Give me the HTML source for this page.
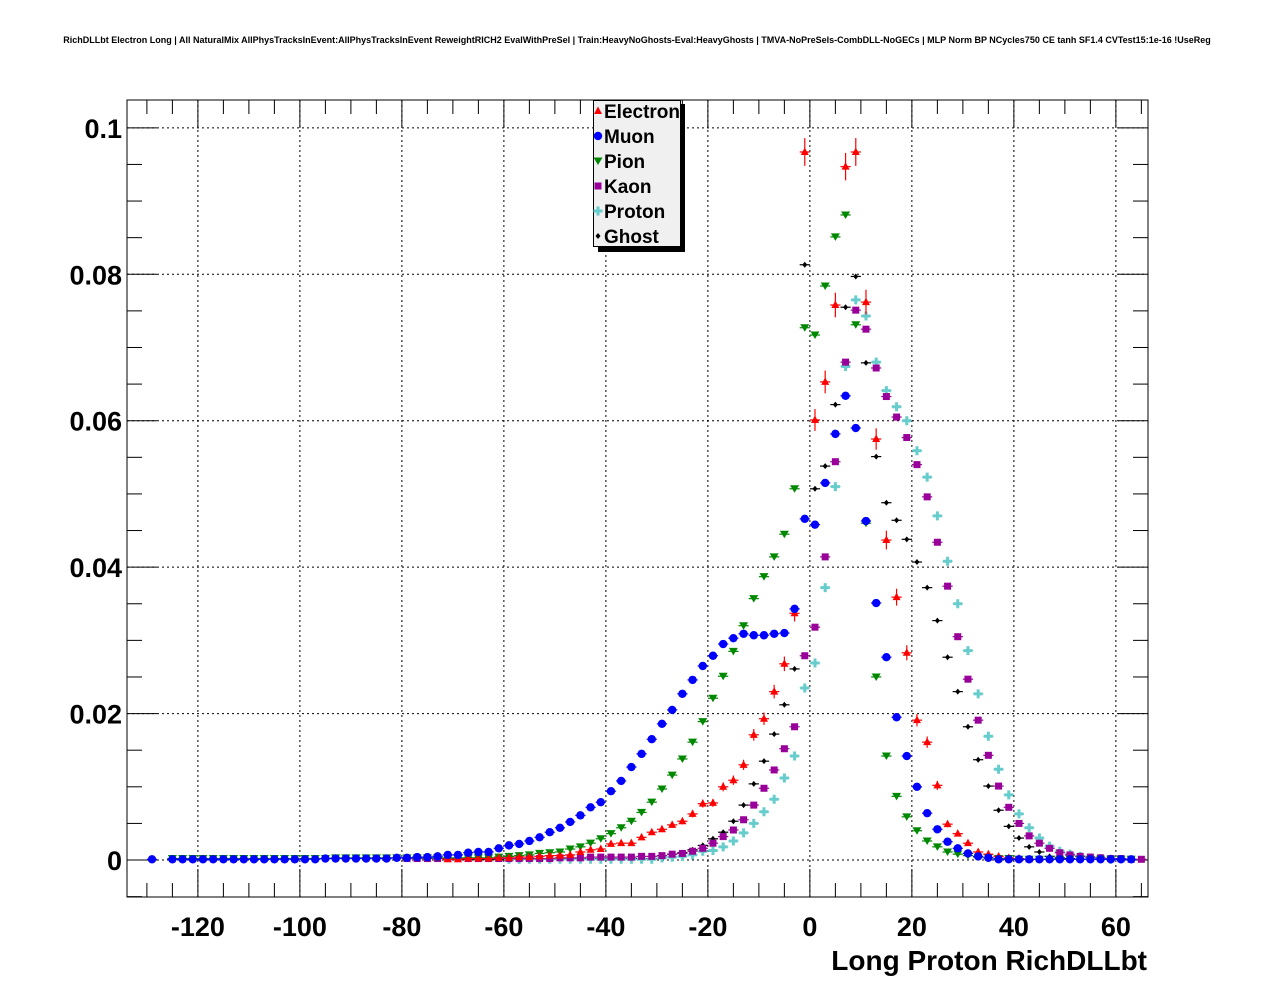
<!DOCTYPE html>
<html><head><meta charset="utf-8"><style>
html,body{margin:0;padding:0;background:#fff;}
svg{display:block;font-family:"Liberation Sans",sans-serif;}
</style></head><body>
<svg id="chart" width="1276" height="996" viewBox="0 0 1276 996" xmlns="http://www.w3.org/2000/svg">
<rect x="0" y="0" width="1276" height="996" fill="#fff"/>
<text x="637" y="43" font-size="9" font-weight="bold" text-anchor="middle">RichDLLbt Electron Long | All NaturalMix AllPhysTracksInEvent:AllPhysTracksInEvent ReweightRICH2 EvalWithPreSel | Train:HeavyNoGhosts-Eval:HeavyGhosts | TMVA-NoPreSels-CombDLL-NoGECs | MLP Norm BP NCycles750 CE tanh SF1.4 CVTest15:1e-16 !UseReg</text>
<g id="grid"></g>
<g id="axes"></g>
<g id="marks"></g>
<g id="legend"></g>
<text x="1147" y="970" font-size="28" font-weight="bold" text-anchor="end">Long Proton RichDLLbt</text>
</svg>
<script>
const xTicks = [-120,-100,-80,-60,-40,-20,0,20,40,60];
const yTicks = [0,0.02,0.04,0.06,0.08,0.1];
const yTickLabels = ["0","0.02","0.04","0.06","0.08","0.1"];
const seriesNames = ["Electron","Muon","Pion","Kaon","Proton","Ghost"];
const binWidth = 2;

const electronStart = -71;
const electronValues = [0.0001,0.0001,0.0002,0.0002,0.0002,0.0003,0.0003,0.0004,0.0004,0.0005,0.0006,0.0006,0.0007,0.0011,0.0014,0.0015,0.0022,0.0023,0.0023,0.0031,0.0038,0.0042,0.0048,0.0053,0.0063,0.0077,0.0078,0.0100,0.0109,0.013,0.0171,0.0193,0.023,0.0268,0.0337,0.0967,0.0601,0.0653,0.0758,0.0947,0.0967,0.0762,0.0575,0.0437,0.0359,0.0283,0.0191,0.0161,0.0102,0.0049,0.0036,0.0023,0.0011,0.0008,0.0005,0.0003,0.0002,0.0001];

const muonStart = -129;
const muonValues = [0.0001,null,0.0001,0.0001,0.0001,0.0001,0.0001,0.0001,0.0001,0.0001,0.0001,0.0001,0.0001,0.0001,0.0001,0.0001,0.0001,0.0002,0.0002,0.0002,0.0002,0.0002,0.0002,0.0002,0.0003,0.0003,0.0004,0.0004,0.0005,0.0007,0.0007,0.001,0.0011,0.0011,0.0016,0.002,0.0022,0.0026,0.0031,0.0038,0.0044,0.0052,0.0061,0.0072,0.0079,0.0094,0.0108,0.0127,0.0145,0.0165,0.0186,0.0205,0.0227,0.0246,0.0265,0.0279,0.0295,0.0303,0.0309,0.0307,0.0307,0.0309,0.031,0.0343,0.0466,0.0458,0.0515,0.0582,0.0634,0.059,0.0463,0.0351,0.0277,0.0195,0.0142,0.01,0.0064,0.0042,0.0025,0.0016,0.0009,0.0005,0.0003,0.0001,0.0001,0.0001,0.0001,0.0001,0.0001,0.0001,0.0001,0.0001,0.0001,0.0001,0.0001,0.0001,0.0001];

const pionStart = -125;
const pionValues = [0.0002,0.0002,0.0002,0.0002,0.0002,0.0002,0.0002,0.0002,0.0002,0.0002,0.0002,0.0002,0.0002,0.0002,0.0002,0.0002,0.0003,0.0003,0.0003,0.0003,0.0003,0.0003,0.0003,0.0003,0.0003,0.0003,0.0003,0.0003,0.0003,0.0003,0.0003,0.0003,0.0004,0.0005,0.0006,0.0007,0.0009,0.001,0.0011,0.0015,0.0018,0.0023,0.0029,0.0036,0.0044,0.0053,0.0065,0.0079,0.0097,0.0116,0.0138,0.0161,0.0189,0.0221,0.0251,0.0285,0.032,0.0357,0.0387,0.0414,0.0445,0.0507,0.0727,0.0717,0.0784,0.0851,0.0881,0.0731,0.046,0.025,0.0142,0.0087,0.0059,0.004,0.0026,0.0018,0.0011,0.0008,0.0006,0.0004,0.0003,0.0002,0.0002,0.0001,0.0001,0.0001,0.0001,0.0001,0.0001,0.0001,0.0001,0.0001,0.0001,0.0001,0.0001];

const kaonStart = -79;
const kaonValues = [0.0002,0.0002,0.0002,0.0002,0.0002,0.0002,0.0002,0.0002,0.0002,0.0002,0.0002,0.0002,0.0002,0.0002,0.0002,0.0003,0.0003,0.0003,0.0004,0.0004,0.0004,0.0004,0.0004,0.0005,0.0005,0.0006,0.0008,0.0009,0.0012,0.0016,0.0023,0.0032,0.0041,0.0055,0.0075,0.0098,0.0123,0.0152,0.0182,0.0279,0.0318,0.0414,0.0544,0.068,0.0751,0.0725,0.0672,0.0633,0.0605,0.0577,0.054,0.0496,0.0434,0.0374,0.0305,0.0247,0.0191,0.0143,0.0101,0.0072,0.005,0.0033,0.0023,0.0016,0.001,0.0007,0.0005,0.0004,0.0003,0.0002,0.0002,0.0001,0.0001];

const protonStart = -59;
const protonValues = [0.0001,0.0001,0.0001,0.0001,0.0001,0.0001,0.0001,0.0001,0.0001,0.0001,0.0001,0.0001,0.0001,0.0001,0.0001,0.0003,0.0004,0.0005,0.0007,0.0012,0.0013,0.0018,0.0026,0.0037,0.005,0.0066,0.0083,0.0112,0.0142,0.0235,0.0269,0.0372,0.051,0.0674,0.0765,0.0743,0.068,0.0641,0.0619,0.06,0.0559,0.0523,0.047,0.0408,0.035,0.0286,0.0227,0.0169,0.0124,0.0089,0.0063,0.0044,0.003,0.0019,0.0012,0.0008,0.0005,0.0003,0.0002,0.0001];

const ghostStart = -69;
const ghostValues = [0.0001,0.0001,0.0001,0.0001,0.0001,0.0001,0.0001,0.0001,0.0001,0.0001,0.0002,0.0002,0.0002,0.0002,0.0002,0.0002,0.0002,0.0002,0.0002,0.0002,0.0006,0.0008,0.001,0.0014,0.002,0.0029,0.0038,0.0053,0.0075,0.0104,0.0135,0.0172,0.0212,0.0261,0.0813,0.0507,0.0538,0.0622,0.0755,0.0797,0.0679,0.0551,0.0488,0.0464,0.0438,0.0407,0.0372,0.0327,0.0277,0.023,0.0182,0.0137,0.0101,0.0068,0.0046,0.003,0.0018,0.0011,0.0005,0.0003,0.0002,0.0001];

const NS = "http://www.w3.org/2000/svg";
const PL = 127, PR = 1148, PT = 100, PB = 897;
const XMIN = -133.9, XMAX = 66.3, YMIN = -0.00505, YMAX = 0.1038;
function sx(v){ return PL + (v - XMIN) / (XMAX - XMIN) * (PR - PL); }
function sy(v){ return PB - (v - YMIN) / (YMAX - YMIN) * (PB - PT); }
function mk(tag, attrs, parent){
  const e = document.createElementNS(NS, tag);
  for (const k in attrs) e.setAttribute(k, attrs[k]);
  parent.appendChild(e);
  return e;
}
const grid = document.getElementById('grid');
const axes = document.getElementById('axes');
const marks = document.getElementById('marks');
const legend = document.getElementById('legend');

xTicks.forEach(t => {
  const l = mk('line', {x1:sx(t), x2:sx(t), y1:PT, y2:PB, stroke:'#000', 'stroke-width':1, 'stroke-dasharray':'2,3'}, grid);
  
  
});
yTicks.forEach(t => {
  const l = mk('line', {x1:PL, x2:PR, y1:sy(t), y2:sy(t), stroke:'#000', 'stroke-width':1, 'stroke-dasharray':'2,3'}, grid);
  
  
});

const frame = mk('rect', {x:PL, y:PT, width:PR-PL, height:PB-PT, fill:'none', stroke:'#000', 'stroke-width':1}, axes);



for (let v = -130; v <= 65; v += 5) {
  const major = (v % 20 === 0);
  const len = major ? 28 : 14;
  const x = sx(v);
  mk('line', {x1:x, x2:x, y1:PB, y2:PB-len, stroke:'#000'}, axes);
  mk('line', {x1:x, x2:x, y1:PT, y2:PT+len, stroke:'#000'}, axes);
}
xTicks.forEach(t => {
  const tx = mk('text', {x:sx(t), y:936, 'font-size':27, 'font-weight':'bold', 'text-anchor':'middle'}, axes);
  tx.textContent = String(t);
  
  
});
for (let i = -1; i <= 20; i++) {
  const v = i * 0.005;
  if (v < YMIN || v > YMAX) continue;
  const major = (i % 4 === 0);
  const len = major ? 30 : 15;
  const y = sy(v);
  mk('line', {x1:PL, x2:PL+len, y1:y, y2:y, stroke:'#000'}, axes);
  mk('line', {x1:PR, x2:PR-len, y1:y, y2:y, stroke:'#000'}, axes);
}
yTicks.forEach((t, i) => {
  const tx = mk('text', {x:122, y:sy(t)+10, 'font-size':27, 'font-weight':'bold', 'text-anchor':'end'}, axes);
  tx.textContent = yTickLabels[i];
  
  
});

const colors = {Electron:'#ff0000', Muon:'#0000ff', Pion:'#008800', Kaon:'#990099', Proton:'#66cccc', Ghost:'#000000'};

function marker(kind, x, y, parent){
  const c = colors[kind];
  if (kind === 'Electron') return mk('polygon', {points:`${x},${y-4.5} ${x-4},${y+3} ${x+4},${y+3}`, fill:c}, parent);
  if (kind === 'Muon') return mk('circle', {cx:x, cy:y, r:4.2, fill:c}, parent);
  if (kind === 'Pion') return mk('polygon', {points:`${x-4.5},${y-3.5} ${x+4.5},${y-3.5} ${x},${y+4}`, fill:c}, parent);
  if (kind === 'Kaon') return mk('rect', {x:x-3.5, y:y-3.5, width:7, height:7, fill:c}, parent);
  if (kind === 'Proton') return mk('path', {d:`M${x-1.5},${y-4.5}h3v3h3v3h-3v3h-3v-3h-3v-3h3z`, fill:c}, parent);
  return mk('path', {d:`M${x},${y-3}L${x+2.5},${y}L${x},${y+3}L${x-2.5},${y}Z`, fill:c}, parent);
}

const seriesData = [
  ['Electron', electronStart, electronValues],
  ['Muon', muonStart, muonValues],
  ['Pion', pionStart, pionValues],
  ['Kaon', kaonStart, kaonValues],
  ['Proton', protonStart, protonValues],
  ['Ghost', ghostStart, ghostValues]
];
const drawOrder = ['Ghost','Proton','Kaon','Pion','Electron','Muon'];
drawOrder.forEach(name => {
  const s = seriesData.find(d => d[0] === name);
  const g = mk('g', {}, marks);
  
  
  s[2].forEach((v, i) => {
    if (v === null) return;
    const xc = s[1] + i * binWidth;
    if (xc < XMIN || xc > XMAX) return;
    const x = sx(xc), y = sy(v);
    const c = colors[name];
    mk('line', {x1:sx(xc - binWidth/2), x2:sx(xc + binWidth/2), y1:y, y2:y, stroke:c, 'stroke-width':1.2}, g);
    if (name === 'Electron') {
      const e = 0.0061 * Math.sqrt(v);
      mk('line', {x1:x, x2:x, y1:sy(v+e), y2:sy(v-e), stroke:c, 'stroke-width':1.2}, g);
    }
    const m = marker(name, x, y, g);
    
    
  });
});

const lg = mk('g', {}, legend);


mk('rect', {x:598, y:104, width:87, height:148, fill:'#000'}, lg);
mk('rect', {x:593.5, y:100.5, width:87, height:146, fill:'#f0f0f0', stroke:'#000', 'stroke-width':1}, lg);
seriesNames.forEach((n, i) => {
  const y = 111 + i * 25;
  const entry = mk('g', {}, lg);
  
  
  marker(n, 598, y, entry);
  const t = mk('text', {x:604, y:y+7, 'font-size':19, 'font-weight':'bold'}, entry);
  t.textContent = n;
});
</script>
</body></html>
